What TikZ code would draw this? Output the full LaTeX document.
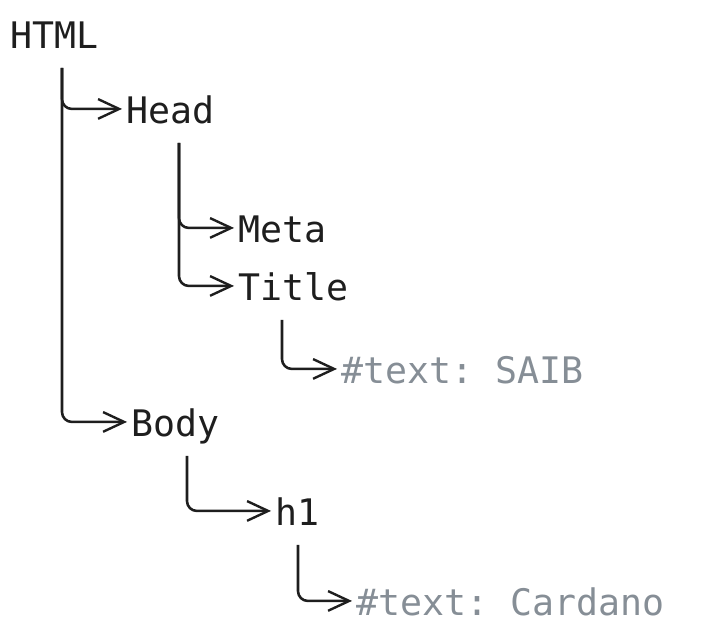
\documentclass[tikz,border=0pt]{standalone}
\usepackage{fontspec}
\setmonofont{DejaVu Sans Mono}
\usepackage{tikz}
\usetikzlibrary{arrows.meta,calc}
\definecolor{ink}{HTML}{1E1E1E}
\definecolor{muted}{HTML}{868E96}

\begin{document}
\begin{tikzpicture}[
    x=0.025cm, y=-0.025cm,
    tag/.style={anchor=base west, inner xsep=3pt, inner ysep=8pt, text height=26pt, text depth=6pt, font=\ttfamily\fontsize{26}{30}\selectfont, text=ink},
    leaf/.style={tag, text=muted},
    link/.style={draw=ink, line width=1.8pt, rounded corners=7pt, -{Straight Barb[length=15pt,width=14pt,line width=1.7pt]}}
]
\useasboundingbox (0,0) rectangle (713,641);

% Document tree
\node[tag] (html) at (6,48) {HTML};
\node[tag] (head) at (122,123) {Head};
\node[tag] (meta) at (234,242) {Meta};
\node[tag] (title) at (234,300) {Title};
\node[leaf] (saib) at (337,383) {\#text: SAIB};
\node[tag] (body) at (127,436) {Body};
\node[tag] (h1) at (271,525) {h1};
\node[leaf] (cardano) at (352,615) {\#text: Cardano};

% Children of HTML
\draw[link] ($(html.south west)+(56,0)$) |- (head);
\draw[link] ($(html.south west)+(56,0)$) |- (body);

% Children of Head
\draw[link] ($(head.south west)+(57,0)$) |- (meta);
\draw[link] ($(head.south west)+(57,0)$) |- (title);

% Text nodes
\draw[link] ($(title.south west)+(48,0)$) |- (saib);
\draw[link] ($(body.south west)+(60,0)$) |- (h1);
\draw[link] ($(h1.south west)+(27,0)$) |- (cardano);

\end{tikzpicture}
\end{document}
